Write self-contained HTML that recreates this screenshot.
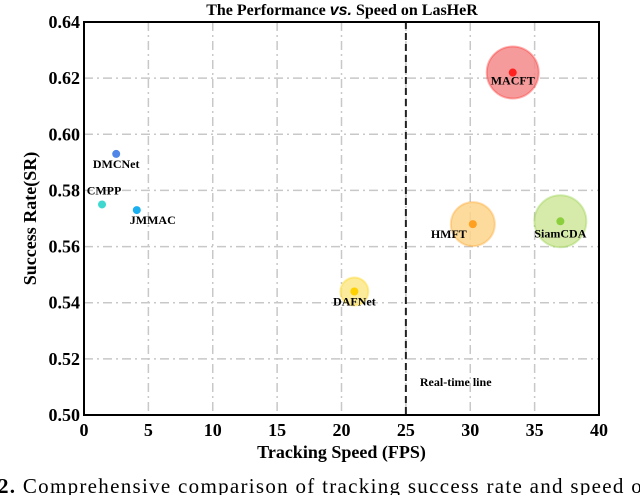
<!DOCTYPE html>
<html><head><meta charset="utf-8"><style>
body{margin:0;background:#fff;overflow:hidden;}
svg{display:block;font-family:"Liberation Serif",serif;}
</style></head><body>
<svg id="chart" width="640" height="495">
<text x="342" y="15" text-anchor="middle" font-size="16" font-weight="bold">The Performance <tspan font-style="italic" font-family="Liberation Sans, sans-serif">vs.</tspan> Speed on LasHeR</text>
<g id="grid"></g><g id="marks"></g><g id="axes"></g>
<text x="-2" y="493" font-size="21" textLength="652" lengthAdjust="spacing"><tspan font-weight="bold">2.</tspan> Comprehensive comparison of tracking success rate and speed of</text>
</svg>
<script>
const names=["MACFT","SiamCDA","HMFT","DAFNet","DMCNet","CMPP","JMMAC"];
const fps=[33.3,37.0,30.2,21.0,2.5,1.4,4.1];
const sr=[0.622,0.569,0.568,0.544,0.593,0.575,0.573];
const xTicks=[0,5,10,15,20,25,30,35,40];
const yTicks=[0.50,0.52,0.54,0.56,0.58,0.60,0.62,0.64];
const bubbleSize=[26,26,22,14,0,0,0];
const colors=["#ff2020","#8ccf3c","#ffa020","#ffd000","#4f86e8","#3fd8d0","#1ab0f0"];
const fills=["#f58a8a","#cfe69b","#fbd58c","#fbe788","","",""];
const X0=84,X1=599,Y0=415,Y1=22;
const xs=v=>X0+(v-0)/40*(X1-X0);
const ys=v=>Y0-(v-0.5)/0.14*(Y0-Y1);
const NS="http://www.w3.org/2000/svg";
function mk(p,t,a){const e=document.createElementNS(NS,t);for(const k in a)e.setAttribute(k,a[k]);p.appendChild(e);return e;}
const grid=document.getElementById('grid'),marks=document.getElementById('marks'),axes=document.getElementById('axes');
xTicks.forEach(t=>{const l=mk(grid,'line',{x1:xs(t),x2:xs(t),y1:Y1,y2:Y0,stroke:'#c8c8c8','stroke-width':1.5,'stroke-dasharray':'9,4,2,4'});

const tx=mk(axes,'text',{x:xs(t),y:Y0+21,'text-anchor':'middle','font-size':18,'font-weight':'bold'});tx.textContent=t;
});
yTicks.forEach(t=>{const l=mk(grid,'line',{x1:X0,x2:X1,y1:ys(t),y2:ys(t),stroke:'#c8c8c8','stroke-width':1.5,'stroke-dasharray':'9,4,2,4'});

const tx=mk(axes,'text',{x:X0-4,y:ys(t)+6,'text-anchor':'end','font-size':18,'font-weight':'bold'});tx.textContent=t.toFixed(2);
});
const rl=mk(grid,'line',{x1:xs(25),x2:xs(25),y1:Y1,y2:Y0,stroke:'#222','stroke-width':2,'stroke-dasharray':'7,4'});

const rt=mk(grid,'text',{x:xs(25)+14,y:386,'font-size':12,'font-weight':'bold'});rt.textContent='Real-time line';

const fr=mk(axes,'rect',{x:X0,y:Y1,width:X1-X0,height:Y0-Y1,fill:'none',stroke:'#000','stroke-width':2});

const labOff=[[0,12],[0,16],[-24,14],[0,14],[0,14],[2,-10],[16,14]];
names.forEach((n,i)=>{const cx=xs(fps[i]),cy=ys(sr[i]);
if(bubbleSize[i]>0){const b=mk(marks,'circle',{cx:cx,cy:cy,r:bubbleSize[i],fill:fills[i],'fill-opacity':0.85,stroke:colors[i],'stroke-opacity':0.35,'stroke-width':2});
}
const d=mk(marks,'circle',{cx:cx,cy:cy,r:4,fill:colors[i]});

const t=mk(marks,'text',{x:cx+labOff[i][0],y:cy+labOff[i][1],'text-anchor':'middle','font-size':12,'font-weight':'bold'});t.textContent=n;
});
const xt=mk(axes,'text',{x:(X0+X1)/2,y:458,'text-anchor':'middle','font-size':18,'font-weight':'bold'});xt.textContent='Tracking Speed (FPS)';

const yt=mk(axes,'text',{x:0,y:0,'text-anchor':'middle','font-size':18,'font-weight':'bold',transform:'translate(36,'+((Y0+Y1)/2)+') rotate(-90)'});yt.textContent='Success Rate(SR)';

</script>
</body></html>
